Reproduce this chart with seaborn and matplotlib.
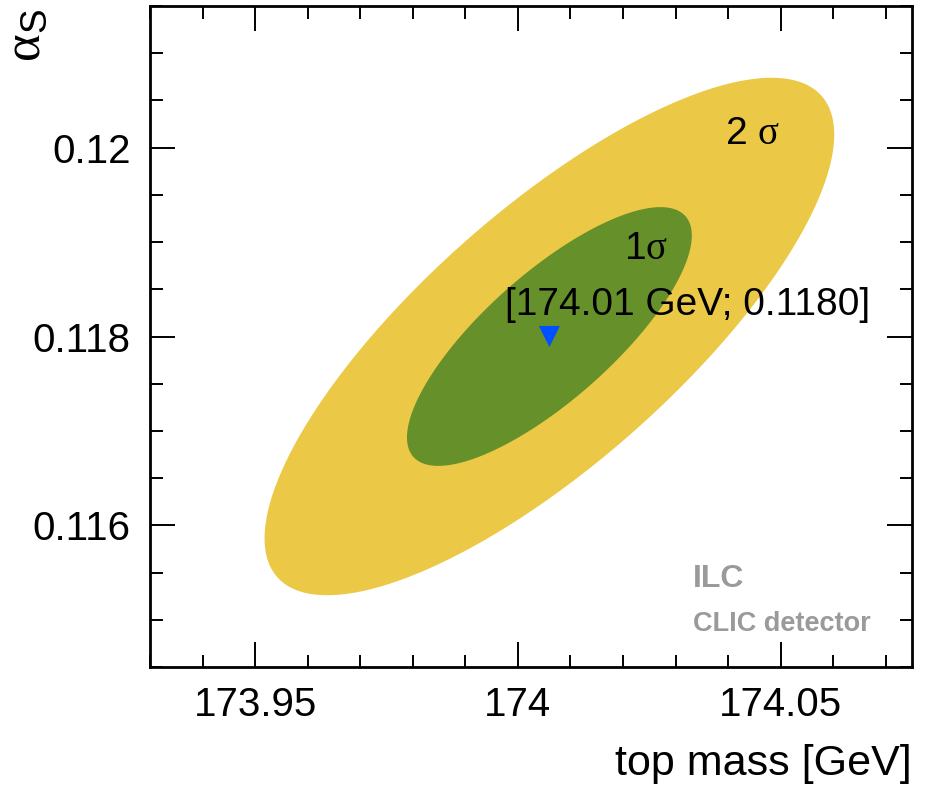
import numpy as np
import pandas as pd
import matplotlib
matplotlib.use("Agg")
import matplotlib.pyplot as plt
from matplotlib.ticker import MultipleLocator
import seaborn as sns

# fit result (centre) and uncertainties
best_mt = [174.006]
best_as = [0.1180]
sigma_mt = 0.0271
sigma_as = 0.00137
rho = 0.78
levels = [2, 1]
level_colors = ["#EBC846", "#66902A"]

sns.set_style("ticks")
plt.rcParams["font.family"] = ["Liberation Sans", "DejaVu Sans"]
plt.rcParams["mathtext.fontset"] = "custom"
plt.rcParams["mathtext.rm"] = "Liberation Sans"
plt.rcParams["mathtext.it"] = "Liberation Serif"
plt.rcParams["mathtext.sf"] = "Liberation Serif"
for key in ["text.color", "axes.labelcolor", "xtick.color", "ytick.color", "axes.edgecolor"]:
    plt.rcParams[key] = "black"

fig = plt.figure(figsize=(9.3, 7.87), dpi=100)
ax = fig.add_axes([150 / 930, 1 - 667 / 787, 762 / 930, 661 / 787])

# contour ellipses from the covariance
t = np.linspace(0, 2 * np.pi, 400)
for k, col in zip(levels, level_colors):
    ex = best_mt[0] + k * sigma_mt * np.cos(t)
    ey = best_as[0] + k * sigma_as * (rho * np.cos(t) + np.sqrt(1 - rho**2) * np.sin(t))
    ax.fill(ex, ey, color=col, lw=0, zorder=1)

df = pd.DataFrame({"mt": best_mt, "as": best_as})
sns.scatterplot(data=df, x="mt", y="as", marker="v", color="#0050FF",
                s=230, edgecolor="none", ax=ax, zorder=3)

ax.text(174.0446, 0.12014, r"2 $\mathsf{\sigma}$", fontsize=28, ha="center", va="center", zorder=4)
ax.text(174.0243, 0.11893, r"1$\mathsf{\sigma}$", fontsize=28, ha="center", va="center", zorder=4)
ax.text(174.0323, 0.11833, "[174.01 GeV; 0.1180]", fontsize=28,
        ha="center", va="center", zorder=4)
ax.text(174.0333, 0.11543, "ILC", fontsize=23, fontweight="bold",
        color="#9A9A9A", ha="left", va="center")
ax.text(174.0333, 0.11496, "CLIC detector", fontsize=19.5, fontweight="bold",
        color="#9A9A9A", ha="left", va="center")

ax.set_xlim(173.93, 174.075)
ax.set_ylim(0.1145, 0.1215)
ax.xaxis.set_minor_locator(MultipleLocator(0.01))
ax.yaxis.set_minor_locator(MultipleLocator(0.0005))
ax.set_xticks([173.95, 174.0, 174.05])
ax.set_xticklabels(["173.95", "174", "174.05"])
ax.set_yticks([0.116, 0.118, 0.12])
ax.set_yticklabels(["0.116", "0.118", "0.12"])

ax.tick_params(which="both", direction="in", top=True, right=True,
               labelsize=29, width=1.4)
ax.tick_params(which="major", length=18, pad=14)
ax.tick_params(which="minor", length=9)
for sp in ax.spines.values():
    sp.set_linewidth(2)
    sp.set_visible(True)

ax.set_xlabel("top mass [GeV]", fontsize=31, loc="right", labelpad=14)
ax.set_ylabel(r"$\mathsf{\alpha}_\mathrm{S}$", fontsize=38, loc="top")
ax.yaxis.set_label_coords(-0.13, 0.995)

fig.savefig("out.png", dpi=100)
